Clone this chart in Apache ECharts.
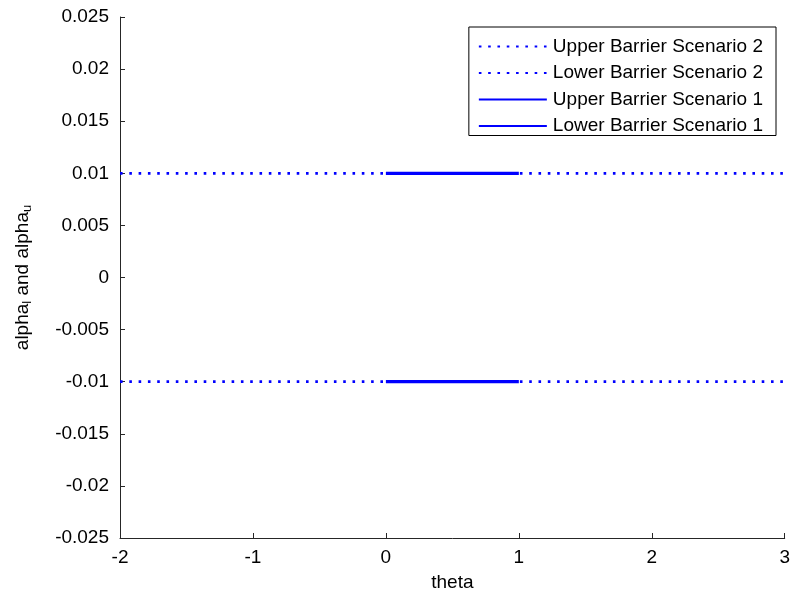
<!DOCTYPE html>
<html>
<head>
<meta charset="utf-8">
<script src="https://cdn.jsdelivr.net/npm/echarts@6/dist/echarts.min.js"></script>
<style>
  html, body { margin: 0; padding: 0; background: #fff; }
  #chart { width: 793px; height: 597px; }
</style>
</head>
<body>
<div id="chart"></div>
<script>
// barrier levels, theta ranges
const thetaScenario2 = [-2, 3];
const thetaScenario1 = [0, 1];
const upperBarrier = [0.01, 0.01];
const lowerBarrier = [-0.01, -0.01];
const seriesNames = [
  "Upper Barrier Scenario 2",
  "Lower Barrier Scenario 2",
  "Upper Barrier Scenario 1",
  "Lower Barrier Scenario 1",
];

const font = "'Liberation Sans', Arial, sans-serif";
const fs = 19;
const blue = "#0000ff";
const zip = (xs, ys) => xs.map((x, i) => [x, ys[i]]);

const dotted = { color: blue, width: 2.7, type: [2.6, 6.7], cap: "butt" };
const solid = { color: blue, width: 3.2, type: "solid" };

const chart = echarts.init(document.getElementById("chart"));
chart.setOption({
  animation: false,
  grid: { left: 120, right: 7, top: 17, bottom: 55 },
  legend: {
    orient: "vertical",
    right: 17,
    top: 27,
    backgroundColor: "#fff",
    borderColor: "#000",
    borderWidth: 1,
    padding: [10, 13, 0, 9],
    itemWidth: 68,
    itemHeight: 19,
    itemGap: 7.5,
    itemStyle: { opacity: 0 },
    textStyle: { fontFamily: font, fontSize: fs, color: "#000", padding: [0, 0, 0, 1] },
    data: seriesNames,
  },
  xAxis: {
    type: "value",
    min: -2,
    max: 3,
    interval: 1,
    name: "theta",
    nameLocation: "middle",
    nameGap: 35,
    nameTextStyle: { fontFamily: font, fontSize: fs, color: "#000" },
    axisLine: { onZero: false, lineStyle: { color: "#262626", width: 1 } },
    axisTick: { inside: true, length: 5, lineStyle: { color: "#262626" } },
    axisLabel: { fontFamily: font, fontSize: fs, color: "#000", margin: 10 },
    splitLine: { show: false },
  },
  yAxis: {
    type: "value",
    min: -0.025,
    max: 0.025,
    interval: 0.005,
    name: "alpha{sub|l} and alpha{sub|u}",
    nameLocation: "middle",
    nameGap: 86,
    nameTextStyle: {
      fontFamily: font,
      fontSize: fs,
      color: "#000",
      rich: { sub: { fontFamily: font, fontSize: 13, color: "#000", verticalAlign: "bottom", padding: [10, 0, 0, 0] } },
    },
    axisLine: { onZero: false, lineStyle: { color: "#262626", width: 1 } },
    axisTick: { inside: true, length: 5, lineStyle: { color: "#262626" } },
    axisLabel: {
      fontFamily: font,
      fontSize: fs,
      color: "#000",
      margin: 11,
      formatter: (v) => String(+v.toFixed(3)),
    },
    splitLine: { show: false },
  },
  series: [
    { name: seriesNames[0], type: "line", symbol: "none", lineStyle: dotted, itemStyle: { color: blue }, data: zip(thetaScenario2, upperBarrier) },
    { name: seriesNames[1], type: "line", symbol: "none", lineStyle: dotted, itemStyle: { color: blue }, data: zip(thetaScenario2, lowerBarrier) },
    { name: seriesNames[2], type: "line", symbol: "none", lineStyle: solid, itemStyle: { color: blue }, data: zip(thetaScenario1, upperBarrier) },
    { name: seriesNames[3], type: "line", symbol: "none", lineStyle: solid, itemStyle: { color: blue }, data: zip(thetaScenario1, lowerBarrier) },
  ],
});
</script>
</body>
</html>
